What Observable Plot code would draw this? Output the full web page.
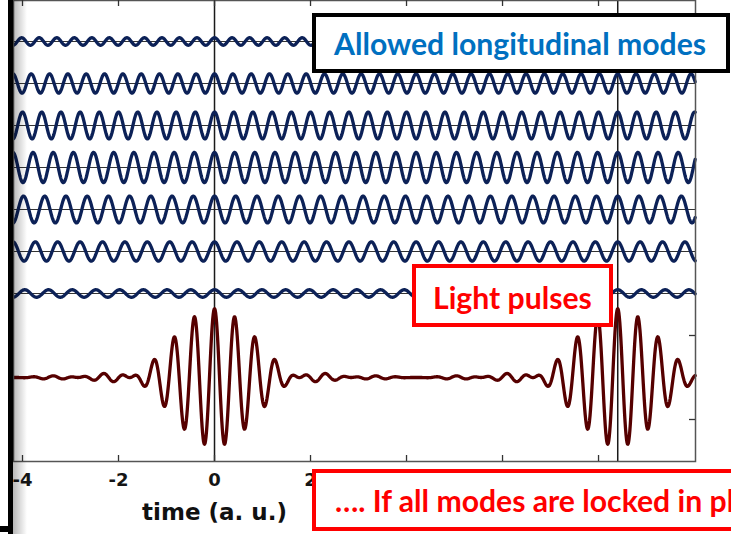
<!DOCTYPE html>
<html>
<head>
<meta charset="utf-8">
<script src="https://cdn.jsdelivr.net/npm/d3@7"></script>
<script src="https://cdn.jsdelivr.net/npm/@observablehq/plot@0.6"></script>
<style>
  html, body { margin: 0; padding: 0; background: #fff; overflow: hidden; width: 731px; height: 534px; }
  #chart { position: relative; width: 731px; height: 534px; overflow: hidden; }
  #chart svg { display: block; }
</style>
</head>
<body>
<div id="chart"></div>
<script>
// ---- data ----
const timeDomain = [-4.1875, 10.02];           // visible time range (a. u.)
const timeTicks = [-4, -2, 0, 2, 4, 6, 8];      // x tick marks
const timeTickLabels = [-4, -2, 0, 2];          // tick labels not hidden by the callout
const modeNumbers = [23, 22, 21, 20, 19, 18, 17];               // longitudinal mode index, top to bottom
const modeAmplitudes = [0.045, 0.115, 0.16, 0.18, 0.16, 0.115, 0.045];
const modeOffsets = [4, 3.5, 3, 2.5, 2, 1.5, 1];                // baseline of each mode trace
const roundTripTime = 8.4;                                       // pulse repetition period
const pulseMarkers = [0, 8.4];                                   // vertical guide lines
const rightTicks = [-0.5, 0.5];
const yDomain = [-1, 4.488];
const xLabel = "time (a. u.)";
const xLabelAt = [0];
const boxTexts = ["Allowed longitudinal modes", "Light pulses", "…. If all modes are locked in phase"];

// ---- build tables ----
const step = 0.01;
const times = d3.range(timeDomain[0], timeDomain[1] + 1e-9, step);
const modeRows = [];
modeNumbers.forEach((n, i) => {
  times.forEach(t => modeRows.push({
    mode: i,
    t,
    v: modeOffsets[i] + modeAmplitudes[i] * Math.cos(2 * Math.PI * n * t / roundTripTime)
  }));
});
const pulseRows = times.map(t => ({
  t,
  v: d3.sum(modeNumbers, (n, i) => modeAmplitudes[i] * Math.cos(2 * Math.PI * n * t / roundTripTime))
}));

const navy = "#0c2157";
const maroon = "#560000";

const plot = Plot.plot({
  width: 731,
  height: 534,
  marginLeft: 13,
  marginRight: 36,
  marginTop: 0,
  marginBottom: 73,
  style: { fontFamily: "DejaVu Sans", background: "white" },
  x: { domain: timeDomain },
  y: { domain: yDomain, axis: null },
  marks: [
    Plot.ruleY(modeOffsets, { stroke: "#333", strokeWidth: 1.2 }),
    Plot.ruleX(pulseMarkers, { stroke: "#1a1a1a", strokeWidth: 1.5 }),
    Plot.line(modeRows, { x: "t", y: "v", z: "mode", stroke: navy, strokeWidth: 3.3, strokeLinejoin: "round" }),
    Plot.line(pulseRows, { x: "t", y: "v", stroke: maroon, strokeWidth: 3.3, strokeLinejoin: "round" }),
    Plot.frame({ stroke: "#555", strokeWidth: 1.5 }),
    Plot.ruleX(timeTicks, { stroke: "#333", strokeWidth: 1.3, insetBottom: 455 }),
    Plot.ruleX(timeTicks, { stroke: "#333", strokeWidth: 1.3, insetTop: 455 }),
    Plot.ruleY(rightTicks, { stroke: "#333", strokeWidth: 1.3, insetLeft: 676 }),
    Plot.axisX({
      ticks: timeTickLabels, tickSize: 0, tickPadding: 12, label: null,
      tickFormat: d => String(d), fontSize: 18, fontWeight: "bold", color: "#151515"
    }),
    Plot.text([xLabel], {
      x: xLabelAt, text: d => d, frameAnchor: "bottom", lineAnchor: "top", dy: 42,
      fontSize: 23, fontWeight: "bold", fill: "#111"
    })
  ]
});

document.getElementById("chart").appendChild(plot);

// ---- slide decorations & callout boxes ----
const svg = d3.select(plot);
const defs = svg.append("defs");
const grad = defs.append("linearGradient").attr("id", "shade").attr("x1", 0).attr("x2", 1).attr("y1", 0).attr("y2", 0);
grad.append("stop").attr("offset", 0).attr("stop-color", "#000").attr("stop-opacity", 0.28);
grad.append("stop").attr("offset", 1).attr("stop-color", "#000").attr("stop-opacity", 0);

const deco = svg.append("g").attr("text-anchor", "start");
deco.append("rect").attr("x", 0).attr("y", 0).attr("width", 8).attr("height", 534).attr("fill", "#fff");
deco.append("rect").attr("x", 13).attr("y", 0).attr("width", 14).attr("height", 534).attr("fill", "url(#shade)");
deco.append("rect").attr("x", 8).attr("y", 0).attr("width", 5).attr("height", 534).attr("fill", "#000");
deco.append("rect").attr("x", 0).attr("y", 526).attr("width", 13).attr("height", 6).attr("fill", "#000");

function callout(x0, y0, x1, y1, stroke) {
  deco.append("rect")
    .attr("x", x0 + 2).attr("y", y0 + 2)
    .attr("width", x1 - x0 - 4).attr("height", y1 - y0 - 4)
    .attr("fill", "#fff").attr("stroke", stroke).attr("stroke-width", 4);
}
function label(x, y, text, fill, size) {
  return deco.append("text")
    .attr("x", x).attr("y", y)
    .attr("text-anchor", "start")
    .attr("font-family", "Lato, 'Open Sans', sans-serif")
    .attr("font-weight", 700)
    .attr("font-size", size)
    .attr("fill", fill)
    .text(text);
}
const fs = 29.5;
function squeeze(sel, ratio) {
  const w = sel.node().getComputedTextLength();
  sel.attr("textLength", w * ratio).attr("lengthAdjust", "spacingAndGlyphs");
}

callout(312, 13, 730, 73, "#000");
const t1 = label(334, 55, boxTexts[0], "#0070C0", fs);
const ratio = 372 / t1.node().getComputedTextLength();
squeeze(t1, ratio);

callout(412, 264, 613, 327, "#ff0000");
const t2 = label(433, 309, boxTexts[1], "#ff0000", fs);
squeeze(t2, ratio);

callout(312, 469, 770, 531, "#ff0000");
const t3 = label(335, 512, boxTexts[2], "#ff0000", fs);
squeeze(t3, ratio);
</script>
</body>
</html>
